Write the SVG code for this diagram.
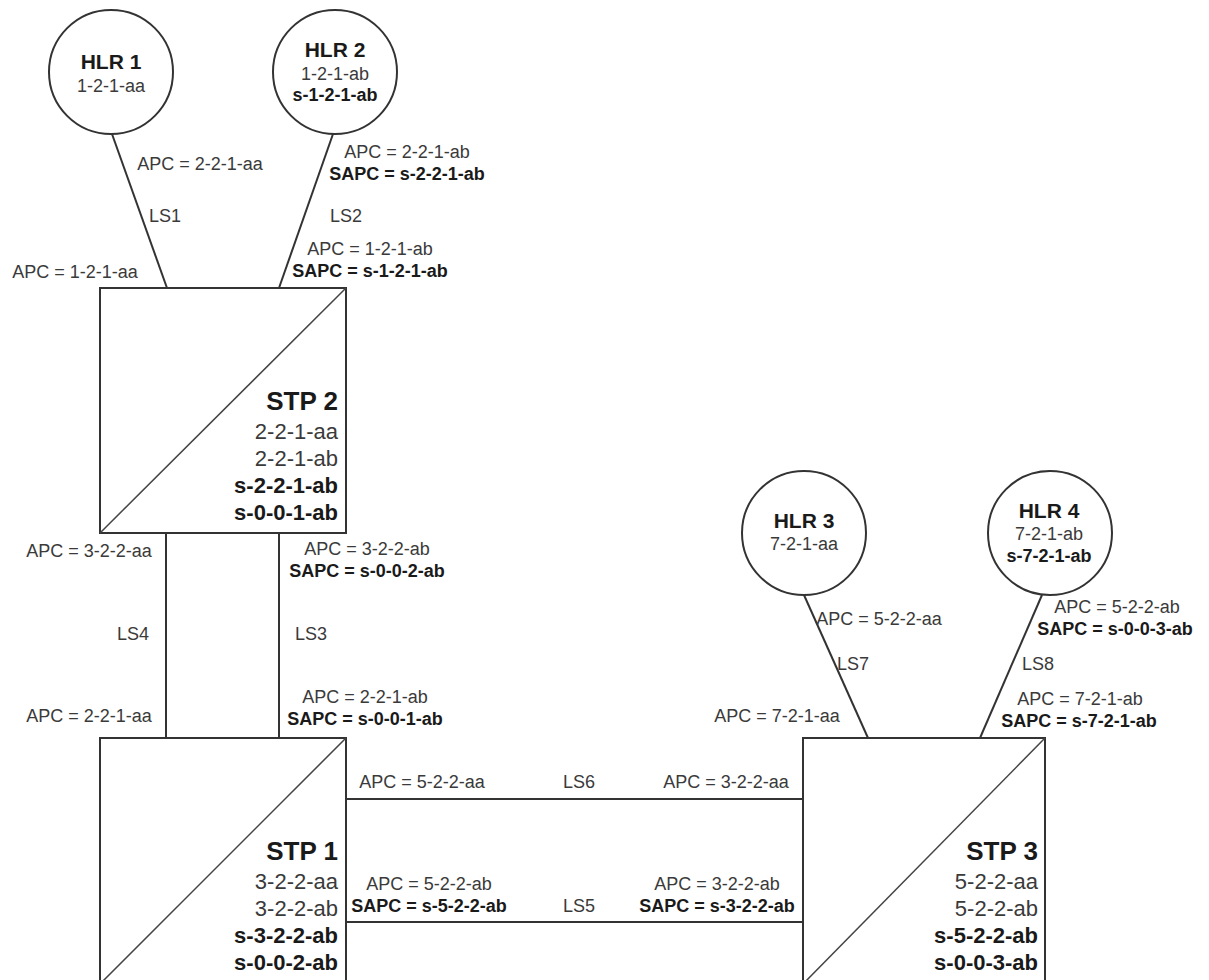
<svg xmlns="http://www.w3.org/2000/svg" width="1209" height="980" viewBox="0 0 1209 980">
<style>
.bg{fill:#ffffff}
.node{fill:#ffffff;stroke:#333333;stroke-width:2}
.diag{stroke:#444444;stroke-width:1.5;fill:none}
.link{stroke:#333333;stroke-width:2;fill:none}
text{font-family:"Liberation Sans",Arial,sans-serif}
.lbl{font-size:18px;fill:#3a3a3a}
.lblb{font-size:18px;fill:#1a1a1a;font-weight:bold}
.mid{text-anchor:middle}
.end{text-anchor:end}
.hlr{font-size:21px;font-weight:bold;fill:#1a1a1a;text-anchor:middle}
.hsub{font-size:18px;fill:#3a3a3a;text-anchor:middle}
.hsubb{font-size:18px;fill:#1a1a1a;font-weight:bold;text-anchor:middle}
.stp{font-size:26px;font-weight:bold;fill:#1a1a1a;text-anchor:end}
.ssub{font-size:22px;fill:#3a3a3a;text-anchor:end}
.ssubb{font-size:22px;fill:#1a1a1a;font-weight:bold;text-anchor:end}
</style>
<rect class="bg" x="0" y="0" width="1209" height="980"/>
<g id="connectors">
<line class="link" x1="112" y1="134" x2="167" y2="288"/>
<line class="link" x1="333" y1="134" x2="279" y2="288"/>
<line class="link" x1="166" y1="533" x2="166" y2="738"/>
<line class="link" x1="279" y1="533" x2="279" y2="738"/>
<line class="link" x1="346" y1="799" x2="803" y2="799"/>
<line class="link" x1="346" y1="922" x2="803" y2="922"/>
<line class="link" x1="804" y1="595" x2="868" y2="738"/>
<line class="link" x1="1042" y1="595" x2="980" y2="738"/>
</g>
<g id="link-labels">
<text class="lbl mid" x="200" y="170">APC = 2-2-1-aa</text>
<text class="lbl" x="149" y="222">LS1</text>
<text class="lbl mid" x="75" y="278">APC = 1-2-1-aa</text>
<text class="lbl mid" x="407" y="158">APC = 2-2-1-ab</text>
<text class="lblb mid" x="407" y="180">SAPC = s-2-2-1-ab</text>
<text class="lbl" x="330" y="222">LS2</text>
<text class="lbl mid" x="370" y="255">APC = 1-2-1-ab</text>
<text class="lblb mid" x="370" y="277">SAPC = s-1-2-1-ab</text>
<text class="lbl mid" x="89" y="557">APC = 3-2-2-aa</text>
<text class="lbl mid" x="367" y="555">APC = 3-2-2-ab</text>
<text class="lblb mid" x="367" y="577">SAPC = s-0-0-2-ab</text>
<text class="lbl" x="117" y="640">LS4</text>
<text class="lbl" x="295" y="640">LS3</text>
<text class="lbl mid" x="89" y="722">APC = 2-2-1-aa</text>
<text class="lbl mid" x="365" y="703">APC = 2-2-1-ab</text>
<text class="lblb mid" x="365" y="725">SAPC = s-0-0-1-ab</text>
<text class="lbl mid" x="422" y="788">APC = 5-2-2-aa</text>
<text class="lbl" x="563" y="788">LS6</text>
<text class="lbl mid" x="726" y="788">APC = 3-2-2-aa</text>
<text class="lbl mid" x="429" y="890">APC = 5-2-2-ab</text>
<text class="lblb mid" x="429" y="912">SAPC = s-5-2-2-ab</text>
<text class="lbl" x="563" y="912">LS5</text>
<text class="lbl mid" x="717" y="890">APC = 3-2-2-ab</text>
<text class="lblb mid" x="717" y="912">SAPC = s-3-2-2-ab</text>
<text class="lbl mid" x="879" y="625">APC = 5-2-2-aa</text>
<text class="lbl" x="837" y="670">LS7</text>
<text class="lbl mid" x="777" y="722">APC = 7-2-1-aa</text>
<text class="lbl mid" x="1117" y="613">APC = 5-2-2-ab</text>
<text class="lblb mid" x="1115" y="635">SAPC = s-0-0-3-ab</text>
<text class="lbl" x="1022" y="670">LS8</text>
<text class="lbl mid" x="1080" y="705">APC = 7-2-1-ab</text>
<text class="lblb mid" x="1079" y="727">SAPC = s-7-2-1-ab</text>
</g>
<g id="hlr1">
<circle class="node" cx="111" cy="72" r="62"/>
<text class="hlr" x="111" y="69">HLR 1</text>
<text class="hsub" x="111" y="92">1-2-1-aa</text>
</g>
<g id="hlr2">
<circle class="node" cx="335" cy="72" r="62"/>
<text class="hlr" x="335" y="57">HLR 2</text>
<text class="hsub" x="335" y="80">1-2-1-ab</text>
<text class="hsubb" x="335" y="101">s-1-2-1-ab</text>
</g>
<g id="hlr3">
<circle class="node" cx="804" cy="533" r="62"/>
<text class="hlr" x="804" y="528">HLR 3</text>
<text class="hsub" x="804" y="550">7-2-1-aa</text>
</g>
<g id="hlr4">
<circle class="node" cx="1050" cy="533" r="62"/>
<text class="hlr" x="1049" y="518">HLR 4</text>
<text class="hsub" x="1049" y="540">7-2-1-ab</text>
<text class="hsubb" x="1049" y="562">s-7-2-1-ab</text>
</g>
<g id="stp2">
<rect class="node" x="100" y="288" width="246" height="245"/>
<line class="diag" x1="100" y1="533" x2="346" y2="288"/>
<text class="stp" x="338" y="410">STP 2</text>
<text class="ssub" x="338" y="439">2-2-1-aa</text>
<text class="ssub" x="338" y="466">2-2-1-ab</text>
<text class="ssubb" x="338" y="493">s-2-2-1-ab</text>
<text class="ssubb" x="338" y="520">s-0-0-1-ab</text>
</g>
<g id="stp1">
<rect class="node" x="100" y="738" width="246" height="246"/>
<line class="diag" x1="100" y1="984" x2="346" y2="738"/>
<text class="stp" x="338" y="860">STP 1</text>
<text class="ssub" x="338" y="889">3-2-2-aa</text>
<text class="ssub" x="338" y="916">3-2-2-ab</text>
<text class="ssubb" x="338" y="943">s-3-2-2-ab</text>
<text class="ssubb" x="338" y="970">s-0-0-2-ab</text>
</g>
<g id="stp3">
<rect class="node" x="803" y="738" width="242" height="246"/>
<line class="diag" x1="803" y1="984" x2="1045" y2="738"/>
<text class="stp" x="1038" y="860">STP 3</text>
<text class="ssub" x="1038" y="889">5-2-2-aa</text>
<text class="ssub" x="1038" y="916">5-2-2-ab</text>
<text class="ssubb" x="1038" y="943">s-5-2-2-ab</text>
<text class="ssubb" x="1038" y="970">s-0-0-3-ab</text>
</g>
</svg>
